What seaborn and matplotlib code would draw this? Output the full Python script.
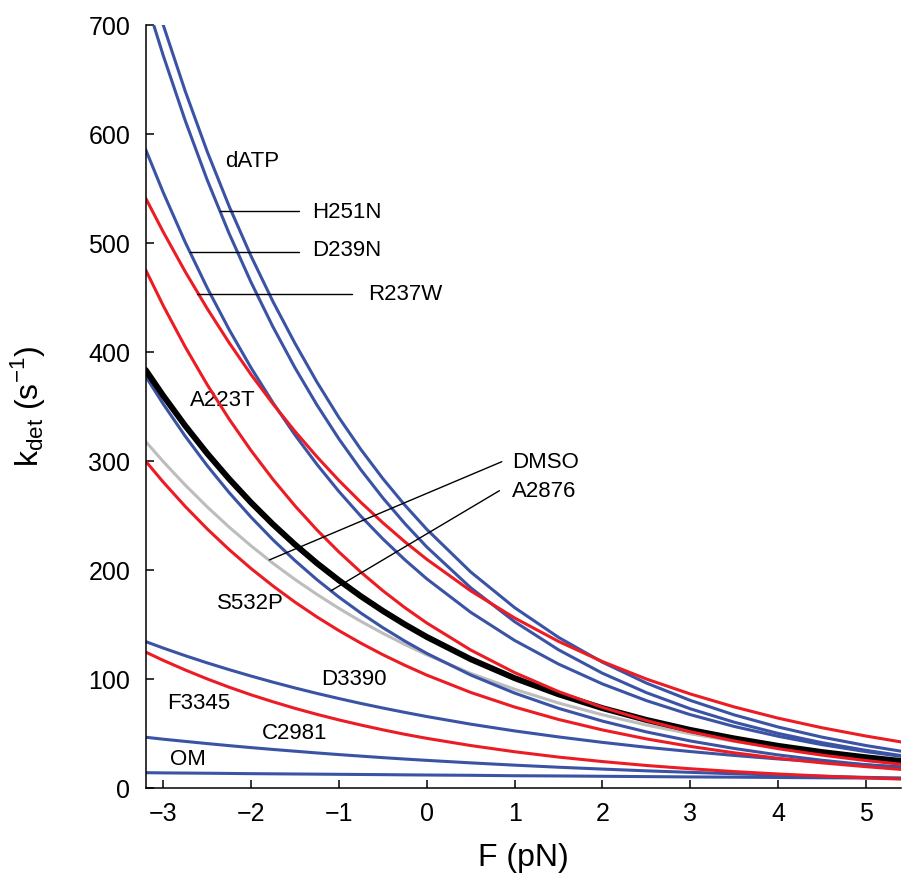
import matplotlib
matplotlib.use("Agg")
import matplotlib.pyplot as plt
import seaborn as sns
import pandas as pd

F_PN = [-3.2, -3.0, -2.75, -2.5, -2.25, -2.0, -1.75, -1.5, -1.25, -1.0, -0.75,
        -0.5, -0.25, 0.0, 0.5, 1.0, 1.5, 2.0, 2.5, 3.0, 3.5, 4.0, 4.5, 5.0, 5.4]

# k_det (s^-1) read for each curve
K_DATP  = [752, 700, 639.4, 584, 533.8, 488, 446.2, 408, 372.5, 340, 310.7,
           284, 259.7, 237.5, 198.4, 165.7, 138.4, 115.6, 96.5, 80.6, 67.3, 56.2, 46.9, 39.2, 34.0]
K_H251N = [723.6, 672, 612.4, 558, 508.8, 464, 423.0, 385.6, 351.5, 320.4, 292.1,
           266.3, 242.8, 221.3, 183.9, 152.8, 127.0, 105.5, 87.7, 72.9, 60.6, 50.3, 41.8, 34.8, 30.0]
K_D239N = [585.8, 546.4, 500.8, 459.0, 420.7, 385.6, 353.5, 324.0, 297.0, 272.2, 249.5,
           228.7, 209.6, 192.1, 161.4, 135.6, 113.9, 95.7, 80.4, 67.5, 56.7, 47.7, 40.0, 33.6, 29.3]
K_R237W = [541.2, 510.2, 473.8, 440.0, 408.6, 379.4, 352.4, 327.3, 304.0, 282.3, 262.2,
           243.5, 226.1, 210.0, 181.1, 156.2, 134.7, 116.2, 100.2, 86.5, 74.6, 64.3, 55.5, 47.9, 42.5]
K_A223T = [475.4, 442.6, 404.8, 370.2, 338.6, 309.7, 283.2, 259.0, 236.9, 216.7, 198.2,
           181.2, 165.7, 151.6, 126.8, 106.1, 88.7, 74.2, 62.1, 51.9, 43.4, 36.3, 30.4, 25.4, 22.0]
K_WT    = [383.6, 360.0, 332.5, 307.1, 283.7, 262.0, 242.0, 223.5, 206.4, 190.7, 176.1,
           162.7, 150.3, 138.8, 118.4, 101.0, 86.2, 73.5, 62.7, 53.5, 45.7, 38.9, 33.2, 28.4, 25.0]
K_A2876 = [377.8, 352.4, 322.9, 295.9, 271.2, 248.6, 227.8, 208.8, 191.3, 175.3, 160.7,
           147.3, 135.0, 123.7, 103.9, 87.3, 73.3, 61.6, 51.7, 43.4, 36.5, 30.6, 25.7, 21.6, 18.8]
K_DMSO  = [318.0, 299.6, 278.1, 258.1, 239.5, 222.3, 206.3, 191.5, 177.8, 165.0, 153.1,
           142.1, 131.9, 122.4, 105.4, 90.8, 78.2, 67.4, 58.0, 50.0, 43.1, 37.1, 32.0, 27.5, 24.4]
K_S532P = [300.0, 280.8, 258.5, 237.9, 218.9, 201.5, 185.5, 170.7, 157.1, 144.6, 133.1,
           122.5, 112.8, 103.8, 87.9, 74.5, 63.1, 53.5, 45.3, 38.4, 32.5, 27.5, 23.3, 19.8, 17.3]
K_D3390 = [134.5, 128.6, 121.6, 115.0, 108.8, 102.9, 97.3, 92.0, 87.0, 82.3, 77.8,
           73.6, 69.6, 65.8, 58.8, 52.6, 47.1, 42.1, 37.6, 33.7, 30.1, 26.9, 24.1, 21.5, 19.7]
K_F3345 = [124.9, 117.3, 108.5, 100.3, 92.7, 85.7, 79.3, 73.3, 67.8, 62.7, 58.0,
           53.6, 49.5, 45.8, 39.2, 33.5, 28.6, 24.5, 20.9, 17.9, 15.3, 13.1, 11.2, 9.6, 8.4]
K_C2981 = [46.8, 45.0, 43.0, 41.0, 39.1, 37.3, 35.6, 34.0, 32.4, 30.9, 29.5,
           28.1, 26.8, 25.6, 23.3, 21.2, 19.3, 17.6, 16.0, 14.6, 13.3, 12.1, 11.0, 10.0, 9.3]
K_OM    = [14.3, 14.1, 13.95, 13.8, 13.6, 13.4, 13.25, 13.1, 12.95, 12.8, 12.65,
           12.5, 12.3, 12.15, 11.9, 11.5, 11.3, 11.0, 10.7, 10.4, 10.2, 9.9, 9.6, 9.4, 9.2]

X_TICKS = [-3, -2, -1, 0, 1, 2, 3, 4, 5]
Y_TICKS = [0, 100, 200, 300, 400, 500, 600, 700]

BLUE = "#3A53A4"
RED = "#EC1C24"
GREY = "#BDBDBD"
BLACK = "#000000"

# (name, values, colour, width, zorder)
curves = [
    ("DMSO", K_DMSO, GREY, 2.2, 2),
    ("dATP", K_DATP, BLUE, 2.2, 3),
    ("H251N", K_H251N, BLUE, 2.2, 3),
    ("D239N", K_D239N, BLUE, 2.2, 3),
    ("A2876", K_A2876, BLUE, 2.2, 3),
    ("D3390", K_D3390, BLUE, 2.2, 3),
    ("C2981", K_C2981, BLUE, 2.2, 3),
    ("OM", K_OM, BLUE, 2.2, 3),
    ("WT", K_WT, BLACK, 4.3, 4),
    ("R237W", K_R237W, RED, 2.2, 5),
    ("A223T", K_A223T, RED, 2.2, 5),
    ("S532P", K_S532P, RED, 2.2, 5),
    ("F3345", K_F3345, RED, 2.2, 5),
]

sns.set_theme(style="ticks")
plt.rcParams["font.family"] = ["Liberation Sans", "DejaVu Sans"]
plt.rcParams["axes.linewidth"] = 1.1
for key in ["text.color", "axes.labelcolor", "xtick.color", "ytick.color", "axes.edgecolor"]:
    plt.rcParams[key] = "black"

fig = plt.figure(figsize=(9.02, 8.90), dpi=100)
ax = fig.add_axes([0.1615, 0.1143, 0.8375, 0.8576])

for name, vals, col, lw, z in curves:
    df = pd.DataFrame({"F": F_PN, "k": vals})
    sns.lineplot(data=df, x="F", y="k", color=col, linewidth=lw, ax=ax,
                 zorder=z, legend=False)

ax.set_xlim(-3.2, 5.4)
ax.set_ylim(0, 700)
ax.set_xticks(X_TICKS)
ax.set_yticks(Y_TICKS)
ax.tick_params(direction="in", length=6, width=1.1, labelsize=18)
ax.tick_params(axis="x", pad=10)
ax.tick_params(axis="y", pad=11)
sns.despine(ax=ax)
ax.spines["left"].set_zorder(10)
ax.spines["bottom"].set_zorder(10)

ax.set_xlabel("F (pN)", fontsize=23, labelpad=12)
ax.set_ylabel(r"k$_\mathregular{det}$ (s$^\mathregular{-1}$)", fontsize=23, labelpad=30)

fs = 16
lk = dict(color="black", lw=1.0, zorder=6)
# text labels
ax.text(-2.29, 575, "dATP", fontsize=fs, va="center", ha="left")
ax.text(-1.31, 528, "H251N", fontsize=fs, va="center", ha="left")
ax.text(-1.31, 493.5, "D239N", fontsize=fs, va="center", ha="left")
ax.text(-0.67, 453, "R237W", fontsize=fs, va="center", ha="left")
ax.text(-2.70, 356, "A223T", fontsize=fs, va="center", ha="left")
ax.text(0.975, 299, "DMSO", fontsize=fs, va="center", ha="left")
ax.text(0.975, 272, "A2876", fontsize=fs, va="center", ha="left")
ax.text(-2.39, 169.7, "S532P", fontsize=fs, va="center", ha="left")
ax.text(-1.20, 99.3, "D3390", fontsize=fs, va="center", ha="left")
ax.text(-2.96, 78, "F3345", fontsize=fs, va="center", ha="left")
ax.text(-1.88, 50.4, "C2981", fontsize=fs, va="center", ha="left")
ax.text(-2.92, 26.6, "OM", fontsize=fs, va="center", ha="left")

# leader lines
ax.plot([-2.35, -1.45], [529.4, 529.4], **lk)
ax.plot([-2.696, -1.45], [492.1, 492.1], **lk)
ax.plot([-2.62, -0.85], [453, 453], **lk)
ax.plot([-1.792, 0.854], [209.4, 299.5], **lk)
ax.plot([-1.089, 0.827], [181.2, 272.9], **lk)

fig.savefig("out.png", dpi=100)
